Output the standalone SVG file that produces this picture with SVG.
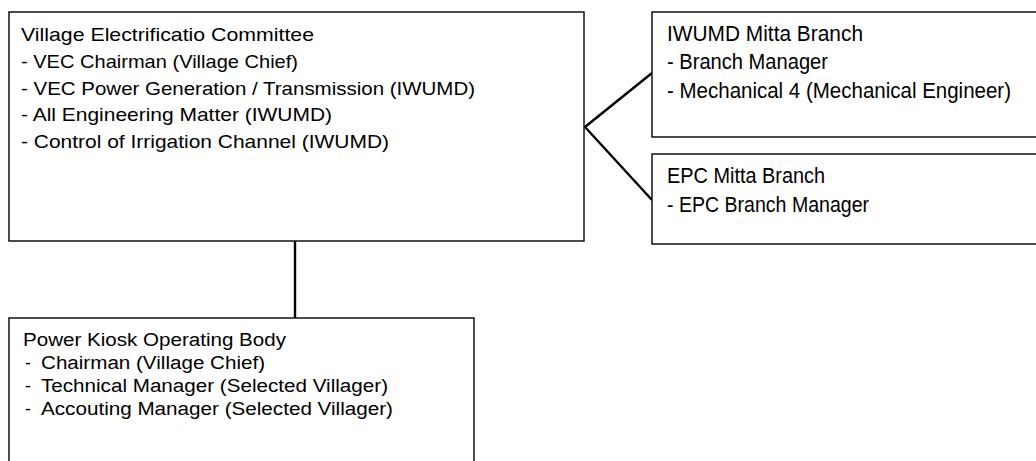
<svg xmlns="http://www.w3.org/2000/svg" width="1036" height="461" viewBox="0 0 1036 461">
<style>
.box{fill:#fff;stroke:#000;stroke-width:1.4}
.con{stroke:#000;stroke-width:2.4;fill:none}
text{font-family:"Liberation Sans",Arial,sans-serif;fill:#000}
.s{font-size:19px}
.b{font-size:18px}
.l{font-size:21.5px}
</style>
<rect width="1036" height="461" fill="#fff"/>
<g id="connectors">
<line class="con" x1="295" y1="241" x2="295" y2="318"/>
<polyline class="con" points="652,73 585,127 652,200"/>
</g>
<g id="vec">
<rect class="box" x="9" y="12" width="575" height="229"/>
<text class="s" x="21" y="41" textLength="293" lengthAdjust="spacingAndGlyphs">Village Electrificatio Committee</text>
<text class="s" x="21" y="68" textLength="277" lengthAdjust="spacingAndGlyphs">- VEC Chairman (Village Chief)</text>
<text class="s" x="21" y="95" textLength="454" lengthAdjust="spacingAndGlyphs">- VEC Power Generation / Transmission (IWUMD)</text>
<text class="s" x="21" y="121" textLength="311" lengthAdjust="spacingAndGlyphs">- All Engineering Matter (IWUMD)</text>
<text class="s" x="21" y="148" textLength="368" lengthAdjust="spacingAndGlyphs">- Control of Irrigation Channel (IWUMD)</text>
</g>
<g id="iwumd">
<rect class="box" x="652" y="12" width="400" height="125"/>
<text class="l" x="667" y="41" textLength="196" lengthAdjust="spacingAndGlyphs">IWUMD Mitta Branch</text>
<text class="l" x="667" y="69" textLength="161" lengthAdjust="spacingAndGlyphs">- Branch Manager</text>
<text class="l" x="667" y="98" textLength="344" lengthAdjust="spacingAndGlyphs">- Mechanical 4 (Mechanical Engineer)</text>
</g>
<g id="epc">
<rect class="box" x="652" y="154" width="400" height="90"/>
<text class="l" x="667" y="183" textLength="158" lengthAdjust="spacingAndGlyphs">EPC Mitta Branch</text>
<text class="l" x="667" y="212" textLength="202" lengthAdjust="spacingAndGlyphs">- EPC Branch Manager</text>
</g>
<g id="pkob">
<rect class="box" x="9" y="318" width="465" height="200"/>
<text class="b" x="23" y="346" textLength="263" lengthAdjust="spacingAndGlyphs">Power Kiosk Operating Body</text>
<text class="b" x="25" y="369">-</text>
<text class="b" x="41" y="369" textLength="224" lengthAdjust="spacingAndGlyphs">Chairman (Village Chief)</text>
<text class="b" x="25" y="392">-</text>
<text class="b" x="41" y="392" textLength="347" lengthAdjust="spacingAndGlyphs">Technical Manager (Selected Villager)</text>
<text class="b" x="25" y="415">-</text>
<text class="b" x="41" y="415" textLength="352" lengthAdjust="spacingAndGlyphs">Accouting Manager (Selected Villager)</text>
</g>
</svg>
